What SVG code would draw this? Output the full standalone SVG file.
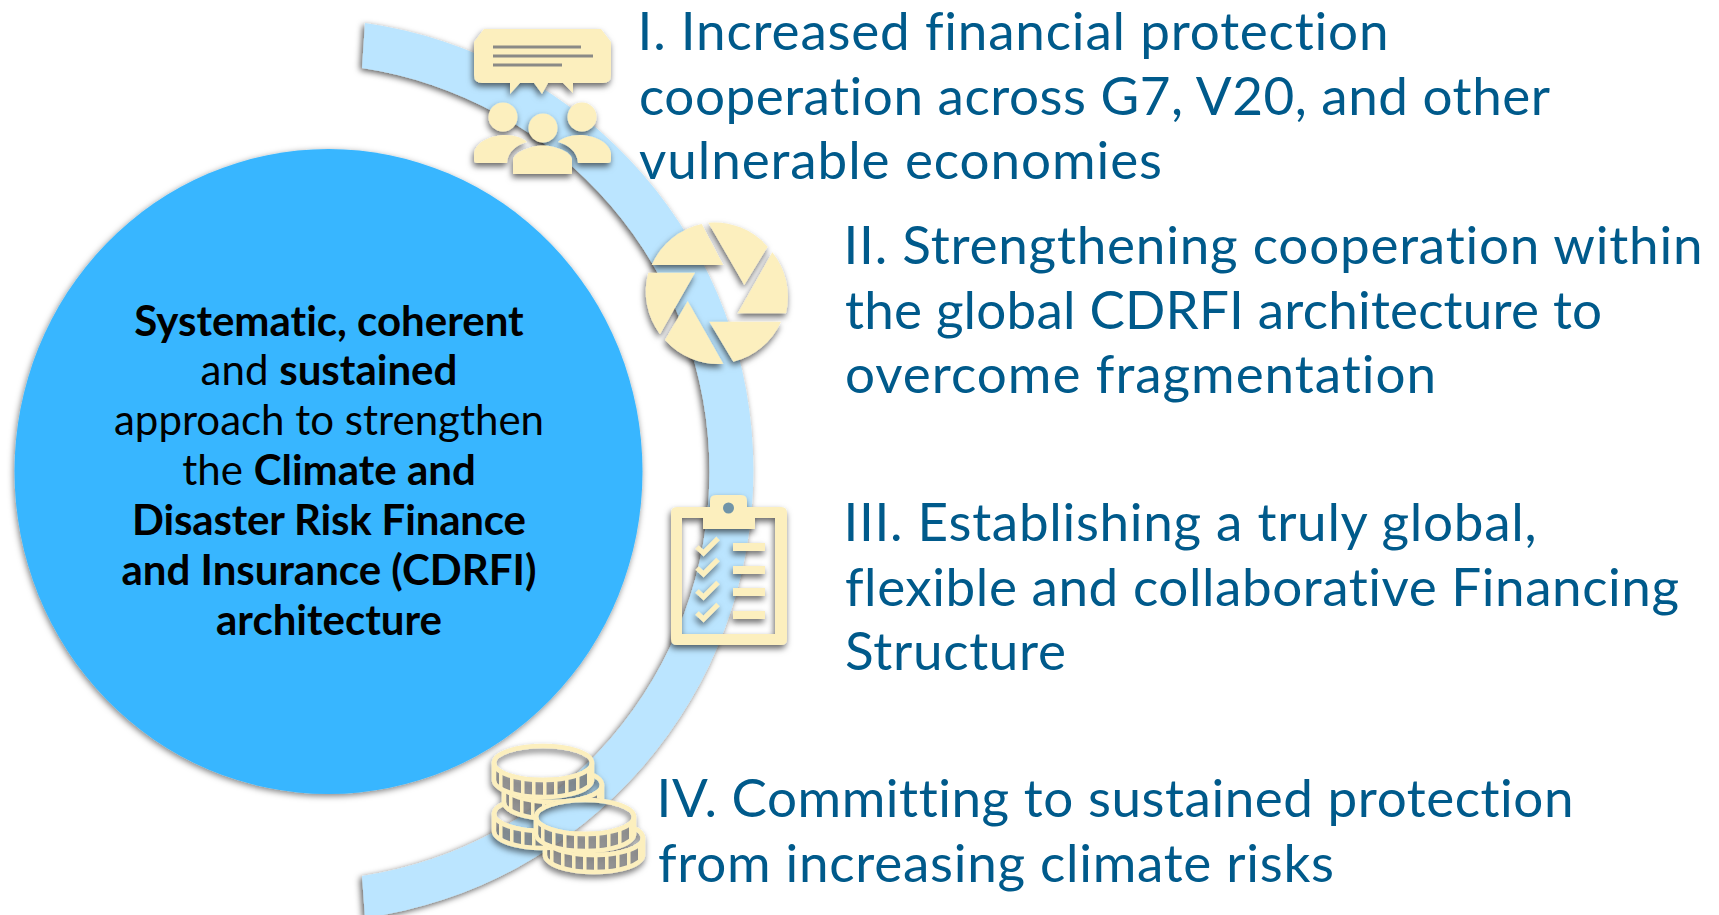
<svg xmlns="http://www.w3.org/2000/svg" width="1719" height="915" viewBox="0 0 1719 915">
<style>
.t{font-family:Lato,"Liberation Sans",sans-serif;font-size:53px;fill:#005A8B;font-variant-ligatures:none}
.c{font-family:Lato,"Liberation Sans",sans-serif;font-size:42px;fill:#000;text-anchor:middle;font-variant-ligatures:none}
.b{font-weight:700}
.ic{fill:#FCEFBE}
.sh{filter:url(#sh)}
</style>
<defs>
<filter id="sh" x="-20%" y="-20%" width="140%" height="140%"><feDropShadow dx="-1" dy="3.500" stdDeviation="3" flood-color="#000" flood-opacity=".6"/></filter>
<filter id="sa" x="-10%" y="-10%" width="120%" height="120%"><feDropShadow dx="-2" dy="2" stdDeviation="3" flood-color="#000" flood-opacity=".65"/></filter>
<filter id="sc" x="-5%" y="-5%" width="110%" height="110%"><feDropShadow dx="-1" dy="2" stdDeviation="3" flood-color="#000" flood-opacity=".5"/></filter>
<pattern id="tick" patternUnits="userSpaceOnUse" width="11" height="40"><rect width="11" height="40" fill="#808080" fill-opacity=".6"/><rect width="3.500" height="40" fill="#FCEFBE"/></pattern>
<g id="coin">
<ellipse rx="49" ry="17" fill="none" stroke="#FCEFBE" stroke-width="4.500"/>
<path d="M-49 0A49 17 0 0 0 49 0V17A49 17 0 0 1-49 17Z" fill="url(#tick)" stroke="#FCEFBE" stroke-width="4.500" stroke-linejoin="round"/>
</g>
<path id="sil" d="M-51 0A51 19 0 0 1 51 0V17A51 19 0 0 1-51 17Z"/>
<mask id="m1" maskUnits="userSpaceOnUse" x="0" y="0" width="1719" height="915"><rect width="1719" height="915" fill="#fff"/><use href="#sil" transform="translate(585 817)"/></mask>
<mask id="m2" maskUnits="userSpaceOnUse" x="0" y="0" width="1719" height="915"><rect width="1719" height="915" fill="#fff"/><use href="#sil" transform="translate(585 817)"/><use href="#sil" transform="translate(553 785)"/></mask>
<mask id="m3" maskUnits="userSpaceOnUse" x="0" y="0" width="1719" height="915"><rect width="1719" height="915" fill="#fff"/><use href="#sil" transform="translate(585 817)"/><use href="#sil" transform="translate(543 763)"/></mask>
</defs>
<rect width="1719" height="915" fill="#fff"/>
<g id="connectors">
<path id="arc" d="M365 23A452 452 0 0 1 365 918L362 876A408.600 408.600 0 0 0 362 68Z" fill="#BBE5FF" filter="url(#sa)"/>
</g>
<g id="center">
<ellipse cx="328.500" cy="471.500" rx="314" ry="322.500" fill="#38B6FF" filter="url(#sc)"/>
<text class="c b" x="329" y="336">Systematic, coherent</text>
<text class="c" x="329" y="385">and <tspan class="b">sustained</tspan></text>
<text class="c" x="329" y="435">approach to strengthen</text>
<text class="c" x="329" y="485">the <tspan class="b">Climate and</tspan></text>
<text class="c b" x="329" y="535" textLength="394">Disaster Risk Finance</text>
<text class="c b" x="329" y="585">and Insurance (CDRFI)</text>
<text class="c b" x="329" y="635">architecture</text>
</g>
<g id="icon-people" class="sh">
<path class="ic" d="M484 29H601L611 42V75Q611 83 603 83H573V93L563 83H548L542 94L534 83H520L510 94V83H482Q474 83 474 75V42Z"/>
<path d="M493 47H581M493 56H593M493 65H562" stroke="#8a8a86" stroke-width="3.200" fill="none"/>
<circle class="ic" cx="503" cy="117" r="14.500"/>
<circle class="ic" cx="582" cy="117" r="14.500"/>
<circle class="ic" cx="543" cy="128" r="14.500"/>
<path class="ic" d="M474 160V153C476 141 493 135 505 135C515 135 523 138 527 142C517 145 508 151 507 163H477Q474 163 474 160Z"/>
<path class="ic" d="M611 160V153C609 141 592 135 580 135C570 135 562 138 558 142C568 145 577 151 578 163H608Q611 163 611 160Z"/>
<path class="ic" d="M513 174V159C516 151 532 145.500 543 145.500C554 145.500 570 151 572 159V174Z"/>
</g>
<g id="icon-aperture" class="sh">
<path class="ic" d="M651.700 265A71 71 0 0 1 701.700 224L723.300 265Z"/>
<path class="ic" d="M708.300 222.700A71 71 0 0 1 767.700 246.700L744.300 285Z"/>
<path class="ic" d="M772.300 252.300A71 71 0 0 1 786 313.300H737.700Z"/>
<path class="ic" d="M709.300 321.700H781A71 71 0 0 1 733.300 361.700Z"/>
<path class="ic" d="M687.700 301L723.300 363.700A71 71 0 0 1 665 340Z"/>
<path class="ic" d="M648.300 272.700H695L660 334.300A71 71 0 0 1 648.300 272.700Z"/>
</g>
<g id="icon-clipboard" class="sh">
<path class="ic" fill-rule="evenodd" d="M677 507H710V501Q710 495 716 495H741Q747 495 747 501V507H781Q787 507 787 513V639Q787 645 781 645H677Q671 645 671 639V513Q671 507 677 507ZM682 518V634H775V518H755V529H703V518Z"/>
<circle cx="728.500" cy="508" r="5.500" fill="#6F94A8"/>
<path id="chk" d="M697 547L703.500 553L718 538.500M697 568L703.500 574L718 559.500M697 591L703.500 597L718 582.500M697 613L703.500 619L718 604.500" fill="none" stroke="#FCEFBE" stroke-width="5"/>
<path class="ic" d="M733 543H765V551H733ZM733 566H765V574H733ZM733 588H765V596H733ZM733 611H765V619H733Z"/>
</g>
<g id="icon-coins" class="sh">
<g mask="url(#m1)"><use href="#coin" transform="translate(594 838)"/></g>
<g mask="url(#m2)"><use href="#coin" transform="translate(543 814)"/></g>
<g mask="url(#m3)"><use href="#coin" transform="translate(553 785)"/></g>
<g mask="url(#m1)"><use href="#coin" transform="translate(543 763)"/></g>
<use href="#coin" transform="translate(585 817)"/>
</g>
<g id="label-1">
<text class="t" x="637.500" y="50" textLength="751">I. Increased financial protection</text>
<text class="t" x="639" y="114.500" textLength="911">cooperation across G7, V20, and other</text>
<text class="t" x="639" y="178.500" textLength="523">vulnerable economies</text>
</g>
<g id="label-2">
<text class="t" x="843.500" y="264" textLength="859">II. Strengthening cooperation within</text>
<text class="t" x="845" y="329" textLength="757">the global CDRFI architecture to</text>
<text class="t" x="845" y="393" textLength="591">overcome fragmentation</text>
</g>
<g id="label-3">
<text class="t" x="843.500" y="541" textLength="693">III. Establishing a truly global,</text>
<text class="t" x="845" y="606" textLength="834">flexible and collaborative Financing</text>
<text class="t" x="845" y="670" textLength="221">Structure</text>
</g>
<g id="label-4">
<text class="t" x="656.500" y="817" textLength="917">IV. Committing to sustained protection</text>
<text class="t" x="658" y="881.500" textLength="676">from increasing climate risks</text>
</g>
</svg>
